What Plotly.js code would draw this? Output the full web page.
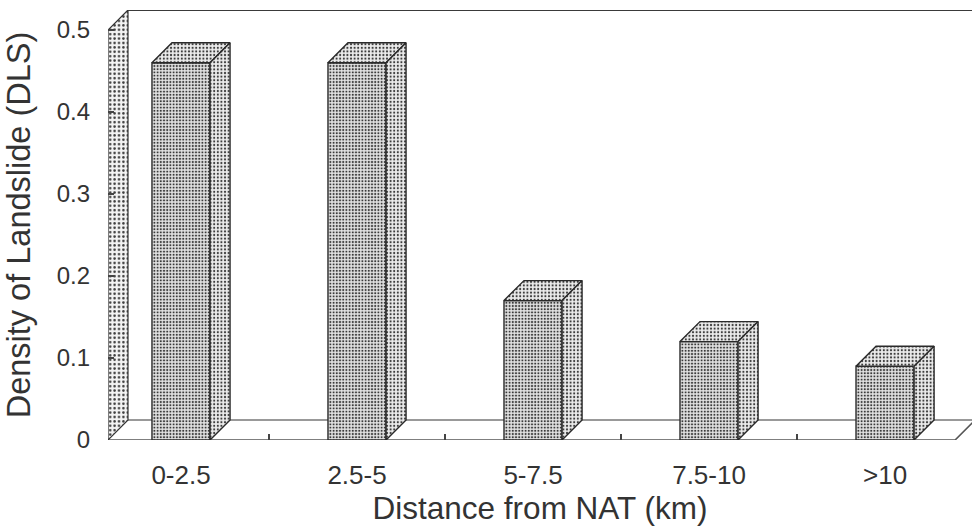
<!DOCTYPE html>
<html>
<head>
<meta charset="utf-8">
<script src="https://cdn.plot.ly/plotly-3.0.1.min.js"></script>
<style>
  html, body { margin: 0; padding: 0; background: #fff; }
  #chart { width: 972px; height: 531px; }
</style>
</head>
<body>
<div id="chart"></div>
<script>
// Landslide density by distance band from the NAT fault
const categories = ['0-2.5', '2.5-5', '5-7.5', '7.5-10', '>10'];
const density = [0.46, 0.46, 0.17, 0.12, 0.09];
const yTickVals = [0, 0.1, 0.2, 0.3, 0.4, 0.5];
const yTickText = ['0', '0.1', '0.2', '0.3', '0.4', '0.5'];

// Plot geometry
const W = 972, H = 531;
const margin = { l: 108, r: 0, t: 10, b: 91 };
const plotW = W - margin.l - margin.r;
const plotH = H - margin.t - margin.b;
const xRange = [-0.4148, 4.494];
const wallTop = 0.5;                       // top of the left wall (front edge)
const depthPx = 20;                        // oblique depth of the 3-D box
const DX = depthPx * (xRange[1] - xRange[0]) / plotW;
const DY = depthPx * wallTop / (plotH - depthPx);
const yRange = [0, wallTop + DY];
const barW = 0.33;
const floorEnd = 4.398;

const xs = categories.map((_, i) => i);
const dotFront = { shape: '.', fgcolor: '#3a3a3a', bgcolor: '#e2e2e2', size: 3.2, solidity: 0.33 };
const dotSide  = { shape: '.', fgcolor: '#3a3a3a', bgcolor: '#ececec', size: 3.6, solidity: 0.28 };
const dotWall  = { shape: '.', fgcolor: '#3a3a3a', bgcolor: '#f3f3f3', size: 4.4, solidity: 0.25 };
const edge = { color: '#2a2a2a', width: 1.4 };

const traces = [];

// left wall slab
traces.push({
  type: 'scatter', mode: 'lines', hoverinfo: 'skip', showlegend: false, cliponaxis: false,
  x: [xRange[0], xRange[0], xRange[0] + DX, xRange[0] + DX, xRange[0]],
  y: [0, wallTop, wallTop + DY, DY, 0],
  fill: 'toself', fillcolor: '#f3f3f3', fillpattern: dotWall,
  line: { color: '#333', width: 1.2 }
});
// top edge of the back wall
traces.push({
  type: 'scatter', mode: 'lines', hoverinfo: 'skip', showlegend: false, cliponaxis: false,
  x: [xRange[0] + DX, xRange[1]],
  y: [wallTop + DY, wallTop + DY],
  line: { color: '#3a3a3a', width: 2 }
});

// front faces of the bars
traces.push({
  type: 'bar', x: xs, y: density, width: barW, showlegend: false, hoverinfo: 'x+y',
  marker: { color: '#e2e2e2', pattern: dotFront, line: edge }
});

// top and side faces of each bar
xs.forEach((x, i) => {
  const v = density[i];
  const l = x - barW / 2, r = x + barW / 2;
  traces.push({
    type: 'scatter', mode: 'lines', hoverinfo: 'skip', showlegend: false, cliponaxis: false,
    x: [l, l + DX, r + DX, r, l], y: [v, v + DY, v + DY, v, v],
    fill: 'toself', fillcolor: '#ececec', fillpattern: dotSide, line: edge
  });
  traces.push({
    type: 'scatter', mode: 'lines', hoverinfo: 'skip', showlegend: false, cliponaxis: false,
    x: [r, r + DX, r + DX, r, r], y: [v, v + DY, DY, 0, v],
    fill: 'toself', fillcolor: '#ececec', fillpattern: dotSide, line: edge
  });
});

const font = 'Liberation Sans, Arial, Helvetica, sans-serif';
const ink = '#333';

const layout = {
  width: W, height: H,
  margin: margin,
  paper_bgcolor: '#fff', plot_bgcolor: '#fff',
  showlegend: false,
  font: { family: font, color: ink, size: 24 },
  xaxis: {
    range: xRange, showgrid: false, zeroline: false, showline: false,
    tickmode: 'array', tickvals: xs, ticktext: categories,
    ticks: '', ticklabelstandoff: 17,
    tickfont: { family: font, size: 26, color: ink },
    minor: { tickmode: 'array', tickvals: [0.5, 1.5, 2.5, 3.5], ticks: 'inside', ticklen: 6, tickwidth: 1.2, tickcolor: '#444' },
    title: { text: 'Distance from NAT (km)', font: { family: font, size: 31.5, color: ink }, standoff: 4 },
    automargin: false, fixedrange: true
  },
  yaxis: {
    range: yRange, showgrid: false, zeroline: false, showline: false,
    tickmode: 'array', tickvals: yTickVals, ticktext: yTickText,
    ticks: 'inside', ticklen: 6, tickwidth: 1.2, tickcolor: '#444',
    ticklabelstandoff: 17,
    tickfont: { family: font, size: 24, color: ink },
    title: { text: 'Density of Landslide (DLS)', font: { family: font, size: 32.5, color: ink }, standoff: 16 },
    automargin: false, fixedrange: true
  },
  shapes: [
    // front edge of the floor
    { type: 'path', layer: 'below', xref: 'x', yref: 'y',
      path: `M ${xRange[0]},0 L ${floorEnd},0 L ${floorEnd + DX},${DY}`,
      line: { color: '#555', width: 1.6 } },
    // back edge of the floor
    { type: 'line', layer: 'below', xref: 'x', yref: 'y',
      x0: xRange[0] + DX, y0: DY, x1: xRange[1], y1: DY,
      line: { color: '#777', width: 1.3 } }
  ]
};

Plotly.newPlot('chart', traces, layout, { displayModeBar: false, staticPlot: true });
</script>
</body>
</html>
